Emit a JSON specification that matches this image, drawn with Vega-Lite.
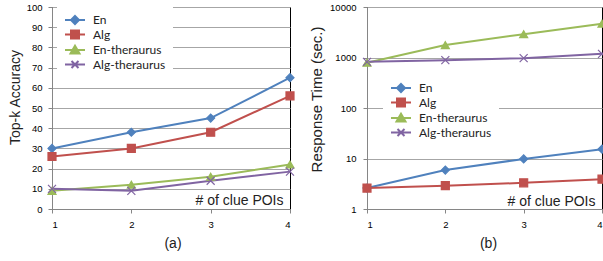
{
  "$schema": "https://vega.github.io/schema/vega-lite/v6.json",
  "padding": {"left": 7, "top": 1, "right": 0, "bottom": 0},
  "spacing": 12,
  "config": {
    "font": "Liberation Sans",
    "view": {"stroke": "#000", "strokeWidth": 1},
    "axis": {"labelFont": "Liberation Sans", "labelFontSize": 9.5, "labelColor": "#000", "titleFont": "Liberation Sans", "titleFontWeight": "normal", "titleColor": "#222", "domainColor": "#868686", "tickColor": "#868686", "tickSize": 4, "gridColor": "#a6a6a6", "labelPadding": 6},
    "title": {"font": "Liberation Sans", "fontSize": 14, "fontWeight": "normal", "color": "#222"}
  },
  "datasets": {
    "acc": [
      {"series": "En", "clues": 1, "accuracy": 30},
      {"series": "En", "clues": 2, "accuracy": 38},
      {"series": "En", "clues": 3, "accuracy": 45},
      {"series": "En", "clues": 4, "accuracy": 65},
      {"series": "Alg", "clues": 1, "accuracy": 26},
      {"series": "Alg", "clues": 2, "accuracy": 30},
      {"series": "Alg", "clues": 3, "accuracy": 38},
      {"series": "Alg", "clues": 4, "accuracy": 56},
      {"series": "En-theraurus", "clues": 1, "accuracy": 9},
      {"series": "En-theraurus", "clues": 2, "accuracy": 12},
      {"series": "En-theraurus", "clues": 3, "accuracy": 16},
      {"series": "En-theraurus", "clues": 4, "accuracy": 22},
      {"series": "Alg-theraurus", "clues": 1, "accuracy": 10},
      {"series": "Alg-theraurus", "clues": 2, "accuracy": 9},
      {"series": "Alg-theraurus", "clues": 3, "accuracy": 14},
      {"series": "Alg-theraurus", "clues": 4, "accuracy": 18.5}
    ],
    "time": [
      {"series": "En", "clues": 1, "time": 2.6},
      {"series": "En", "clues": 2, "time": 5.9},
      {"series": "En", "clues": 3, "time": 9.8},
      {"series": "En", "clues": 4, "time": 15.3},
      {"series": "Alg", "clues": 1, "time": 2.6},
      {"series": "Alg", "clues": 2, "time": 2.9},
      {"series": "Alg", "clues": 3, "time": 3.3},
      {"series": "Alg", "clues": 4, "time": 3.9},
      {"series": "En-theraurus", "clues": 1, "time": 785},
      {"series": "En-theraurus", "clues": 2, "time": 1760},
      {"series": "En-theraurus", "clues": 3, "time": 2900},
      {"series": "En-theraurus", "clues": 4, "time": 4680},
      {"series": "Alg-theraurus", "clues": 1, "time": 820},
      {"series": "Alg-theraurus", "clues": 2, "time": 885},
      {"series": "Alg-theraurus", "clues": 3, "time": 970},
      {"series": "Alg-theraurus", "clues": 4, "time": 1180}
    ]
  },
  "hconcat": [
    {
      "width": 238,
      "height": 202,
      "data": {"name": "acc"},
      "title": {"text": "(a)", "orient": "bottom", "frame": "group", "offset": 8, "dx": 2},
      "encoding": {
        "x": {"field": "clues", "type": "quantitative", "scale": {"domain": [1, 4], "nice": false},
          "axis": {"values": [1, 2, 3, 4], "format": "d", "grid": false, "title": "# of clue POIs", "titleFontSize": 14, "titleAlign": "right", "titleAnchor": "end", "titleX": 231, "titleY": -5, "titleBaseline": "alphabetic"}},
        "y": {"field": "accuracy", "type": "quantitative", "scale": {"domain": [0, 100], "nice": false},
          "axis": {"values": [0, 10, 20, 30, 40, 50, 60, 70, 80, 90, 100], "title": "Top-k Accuracy", "titleFontSize": 14, "titlePadding": 4, "titleY": 90}}
      },
      "layer": [
        {"mark": {"type": "line", "strokeWidth": 2},
         "encoding": {"stroke": {"field": "series", "type": "nominal", "scale": {"domain": ["En", "Alg", "En-theraurus", "Alg-theraurus"], "range": ["#4F81BD", "#C0504D", "#9BBB59", "#8064A2"]}, "legend": null}}},
        {"mark": {"type": "point", "filled": true, "size": 64, "strokeWidth": 1.2, "opacity": 1},
         "encoding": {
           "fill": {"field": "series", "type": "nominal", "scale": {"domain": ["En", "Alg", "En-theraurus", "Alg-theraurus"], "range": ["#4F81BD", "#C0504D", "#9BBB59", "#8064A2"]}, "legend": null},
           "stroke": {"field": "series", "type": "nominal", "scale": {"domain": ["En", "Alg", "En-theraurus", "Alg-theraurus"], "range": ["#4F81BD", "#C0504D", "#9BBB59", "#8064A2"]}, "legend": null},
           "shape": {"field": "series", "type": "nominal", "scale": {"domain": ["En", "Alg", "En-theraurus", "Alg-theraurus"], "range": ["diamond", "square", "triangle-up", "M-1,-1L1,1M-1,1L1,-1"]}, "legend": null}}},
        {"transform": [{"filter": "datum.accuracy < 0"}],
         "mark": {"type": "point", "filled": true, "strokeWidth": 2, "opacity": 1},
         "encoding": {
           "fill": {"field": "series", "type": "nominal", "scale": {"domain": ["En", "Alg", "En-theraurus", "Alg-theraurus"], "range": ["#4F81BD", "#C0504D", "#9BBB59", "#8064A2"]},
             "legend": {"title": null, "orient": "none", "legendX": 5, "legendY": 0, "fillColor": "#fff", "padding": 7, "symbolSize": 100, "symbolStrokeWidth": 2, "labelFont": "Lato", "labelFontSize": 12, "labelColor": "#222", "rowPadding": -1.5, "symbolOffset": 5, "labelOffset": 12}},
           "stroke": {"field": "series", "type": "nominal", "scale": {"domain": ["En", "Alg", "En-theraurus", "Alg-theraurus"], "range": ["#4F81BD", "#C0504D", "#9BBB59", "#8064A2"]},
             "legend": {"title": null, "orient": "none", "legendX": 5, "legendY": 0, "fillColor": "#fff", "padding": 7, "symbolSize": 100, "symbolStrokeWidth": 2, "labelFont": "Lato", "labelFontSize": 12, "labelColor": "#222", "rowPadding": -1.5, "symbolOffset": 5, "labelOffset": 12}},
           "shape": {"field": "series", "type": "nominal", "scale": {"domain": ["En", "Alg", "En-theraurus", "Alg-theraurus"], "range": ["M-2,0H2M0,-0.8L0.8,0L0,0.8L-0.8,0Z", "M-2,0H2M-0.8,-0.8H0.8V0.8H-0.8Z", "M-2,0H2M0,-0.85L0.9,0.7H-0.9Z", "M-2,0H2M-0.7,-0.7L0.7,0.7M-0.7,0.7L0.7,-0.7"]},
             "legend": {"title": null, "orient": "none", "legendX": 5, "legendY": 0, "fillColor": "#fff", "padding": 7, "symbolSize": 100, "symbolStrokeWidth": 2, "labelFont": "Lato", "labelFontSize": 12, "labelColor": "#222", "rowPadding": -1.5, "symbolOffset": 5, "labelOffset": 12}}}}
      ],
      "resolve": {"scale": {"shape": "independent", "fill": "independent", "stroke": "independent"}}
    },
    {
      "width": 235,
      "height": 202,
      "data": {"name": "time"},
      "title": {"text": "(b)", "orient": "bottom", "frame": "group", "offset": 8, "dx": 4},
      "encoding": {
        "x": {"field": "clues", "type": "quantitative", "scale": {"domain": [1, 4], "nice": false},
          "axis": {"values": [1, 2, 3, 4], "format": "d", "grid": false, "title": "# of clue POIs", "titleFontSize": 14, "titleAlign": "right", "titleAnchor": "end", "titleX": 228, "titleY": -4, "titleBaseline": "alphabetic"}},
        "y": {"field": "time", "type": "quantitative", "scale": {"type": "log", "domain": [1, 10000], "nice": false},
          "axis": {"values": [1, 10, 100, 1000, 10000], "format": "d", "title": "Response Time (sec.)", "titleFontSize": 15, "titlePadding": 5, "titleY": 92, "labelPadding": 7}}
      },
      "layer": [
        {"mark": {"type": "line", "strokeWidth": 2},
         "encoding": {"stroke": {"field": "series", "type": "nominal", "scale": {"domain": ["En", "Alg", "En-theraurus", "Alg-theraurus"], "range": ["#4F81BD", "#C0504D", "#9BBB59", "#8064A2"]}, "legend": null}}},
        {"mark": {"type": "point", "filled": true, "size": 64, "strokeWidth": 1.2, "opacity": 1},
         "encoding": {
           "fill": {"field": "series", "type": "nominal", "scale": {"domain": ["En", "Alg", "En-theraurus", "Alg-theraurus"], "range": ["#4F81BD", "#C0504D", "#9BBB59", "#8064A2"]}, "legend": null},
           "stroke": {"field": "series", "type": "nominal", "scale": {"domain": ["En", "Alg", "En-theraurus", "Alg-theraurus"], "range": ["#4F81BD", "#C0504D", "#9BBB59", "#8064A2"]}, "legend": null},
           "shape": {"field": "series", "type": "nominal", "scale": {"domain": ["En", "Alg", "En-theraurus", "Alg-theraurus"], "range": ["diamond", "square", "triangle-up", "M-1,-1L1,1M-1,1L1,-1"]}, "legend": null}}},
        {"transform": [{"filter": "datum.time < 0"}],
         "mark": {"type": "point", "filled": true, "strokeWidth": 2, "opacity": 1},
         "encoding": {
           "fill": {"field": "series", "type": "nominal", "scale": {"domain": ["En", "Alg", "En-theraurus", "Alg-theraurus"], "range": ["#4F81BD", "#C0504D", "#9BBB59", "#8064A2"]},
             "legend": {"title": null, "orient": "none", "legendX": 16, "legendY": 68, "fillColor": "#fff", "padding": 7, "symbolSize": 100, "symbolStrokeWidth": 2, "labelFont": "Lato", "labelFontSize": 12, "labelColor": "#222", "rowPadding": -1.5, "symbolOffset": 5, "labelOffset": 12}},
           "stroke": {"field": "series", "type": "nominal", "scale": {"domain": ["En", "Alg", "En-theraurus", "Alg-theraurus"], "range": ["#4F81BD", "#C0504D", "#9BBB59", "#8064A2"]},
             "legend": {"title": null, "orient": "none", "legendX": 16, "legendY": 68, "fillColor": "#fff", "padding": 7, "symbolSize": 100, "symbolStrokeWidth": 2, "labelFont": "Lato", "labelFontSize": 12, "labelColor": "#222", "rowPadding": -1.5, "symbolOffset": 5, "labelOffset": 12}},
           "shape": {"field": "series", "type": "nominal", "scale": {"domain": ["En", "Alg", "En-theraurus", "Alg-theraurus"], "range": ["M-2,0H2M0,-0.8L0.8,0L0,0.8L-0.8,0Z", "M-2,0H2M-0.8,-0.8H0.8V0.8H-0.8Z", "M-2,0H2M0,-0.85L0.9,0.7H-0.9Z", "M-2,0H2M-0.7,-0.7L0.7,0.7M-0.7,0.7L0.7,-0.7"]},
             "legend": {"title": null, "orient": "none", "legendX": 16, "legendY": 68, "fillColor": "#fff", "padding": 7, "symbolSize": 100, "symbolStrokeWidth": 2, "labelFont": "Lato", "labelFontSize": 12, "labelColor": "#222", "rowPadding": -1.5, "symbolOffset": 5, "labelOffset": 12}}}}
      ],
      "resolve": {"scale": {"shape": "independent", "fill": "independent", "stroke": "independent"}}
    }
  ]
}
